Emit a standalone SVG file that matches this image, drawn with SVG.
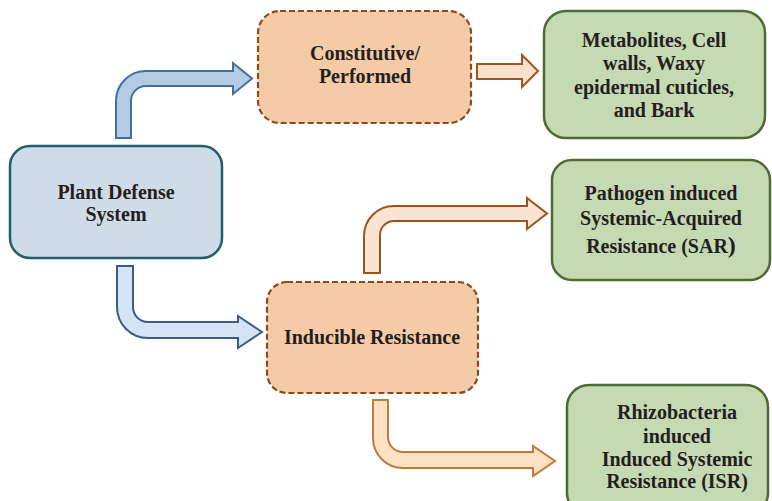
<svg xmlns="http://www.w3.org/2000/svg" width="772" height="501" viewBox="0 0 772 501">
<style>
text{font-family:"Liberation Serif","Times New Roman",serif;font-weight:bold;font-size:20px;fill:#231f20;text-anchor:middle}
.blue{fill:#cfdce8;stroke:#1f5f6b;stroke-width:2.5}
.orange{fill:#f5cba7;stroke:#8b4a1c;stroke-width:2.2;stroke-dasharray:6 3}
.green{fill:#c5d9b3;stroke:#4f6b34;stroke-width:2.5}
.conn path{stroke-width:2;stroke-linejoin:miter}
</style>
<rect width="772" height="501" fill="#ffffff"/>
<g id="connectors" class="conn">
<path d="M116,138 L116,101 A30,30 0 0 1 146,71 L233,71 L233,63 L252,78.5 L233,94 L233,86 L146,86 A15,15 0 0 0 131,101 L131,138 Z" fill="#b3cce4" stroke="#41709e"/>
<path d="M117,266 L133,266 L133,307 A15,15 0 0 0 148,322 L238,322 L238,316 L262,332 L238,348 L238,338 L148,338 A31,31 0 0 1 117,307 Z" fill="#d5e4f4" stroke="#3b5a86"/>
<path d="M477,64 L522,64 L522,55 L538,71 L522,87 L522,79 L477,79 Z" fill="#f9e1cd" stroke="#a0541f"/>
<path d="M364,273 L364,236 A30,30 0 0 1 394,206 L527,206 L527,198 L547,213.5 L527,229 L527,221 L394,221 A14,14 0 0 0 380,235 L380,273 Z" fill="#fae3d1" stroke="#9d521d"/>
<path d="M373,400 L388,400 L388,437 A15,15 0 0 0 403,452 L533,452 L533,446 L555,461 L533,476 L533,468 L403,468 A30,30 0 0 1 373,438 Z" fill="#fde3c4" stroke="#c27a3a"/>
</g>
<g id="plant-defense">
<rect class="blue" x="10" y="146" width="212" height="112" rx="20"/>
<text x="116" y="199">Plant Defense</text>
<text x="116" y="221">System</text>
</g>
<g id="constitutive">
<rect class="orange" x="258" y="11" width="213" height="112" rx="22"/>
<text x="365" y="60">Constitutive/</text>
<text x="365" y="83">Performed</text>
</g>
<g id="metabolites">
<rect class="green" x="544" y="11" width="221" height="127" rx="22"/>
<text x="654" y="47">Metabolites, Cell</text>
<text x="654" y="70">walls, Waxy</text>
<text x="654" y="93.5">epidermal cuticles,</text>
<text x="654" y="117">and Bark</text>
</g>
<g id="sar">
<rect class="green" x="552" y="160" width="218" height="120" rx="20"/>
<text x="661" y="200">Pathogen induced</text>
<text x="661" y="225">Systemic-Acquired</text>
<text x="661" y="253">Resistance (SAR<tspan font-size="24">)</tspan></text>
</g>
<g id="inducible">
<rect class="orange" x="267" y="282" width="211" height="111" rx="20"/>
<text x="372" y="344">Inducible Resistance</text>
</g>
<g id="isr">
<rect class="green" x="567" y="385" width="201" height="130" rx="22"/>
<text x="677" y="419">Rhizobacteria</text>
<text x="677" y="443">induced</text>
<text x="677" y="466">Induced Systemic</text>
<text x="677" y="488">Resistance (ISR)</text>
</g>
</svg>
